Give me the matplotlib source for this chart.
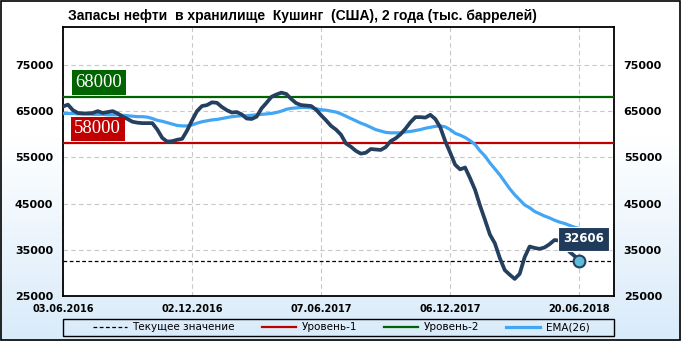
import matplotlib
matplotlib.use('Agg')
import matplotlib.pyplot as plt
from matplotlib.patches import Rectangle
import numpy as np

# weekly stocks at Cushing, thousand barrels
stock = [66000, 66400, 65200, 64600, 64500, 64500, 64600, 65000, 64600, 64800,
         65000, 64500, 63800, 63300, 62700, 62500, 62400, 62400, 62400, 61000,
         59200, 58400, 58500, 58800, 59000, 60800, 63000, 65000, 66100, 66300,
         66900, 66800, 65900, 65200, 64700, 64800, 64300, 63400, 63300, 63800,
         65600, 66800, 68100, 68600, 69000, 68700, 67600, 66700, 66300, 66200,
         66100, 65300, 64100, 63000, 61800, 61000, 59900, 58000, 57300, 56400,
         55800, 56000, 56800, 56700, 56600, 57200, 58500, 59100, 60000, 61200,
         62600, 63700, 63700, 63600, 64200, 63300, 61500, 58500, 56000, 53400,
         52400, 52800, 50500, 48000, 44600, 41500, 38300, 36400, 33200, 30600,
         29600, 28700, 29800, 33400, 35700, 35400, 35200, 35500, 36200, 37100,
         37000, 36500, 34600, 33700, 32606]

ema26 = [64500, 64500, 64500, 64400, 64400, 64400, 64300, 64300, 64300, 64200,
         64200, 64200, 64100, 64000, 63900, 63800, 63800, 63700, 63400, 63000,
         62800, 62500, 62200, 61900, 61800, 61800, 62000, 62400, 62700, 62900,
         63100, 63200, 63400, 63600, 63800, 63900, 64000, 64000, 64100, 64200,
         64300, 64400, 64500, 64700, 65000, 65400, 65600, 65700, 65800, 65800,
         65700, 65500, 65300, 65200, 65000, 64800, 64400, 63900, 63400, 62900,
         62400, 62000, 61500, 61000, 60700, 60400, 60300, 60300, 60300, 60500,
         60600, 60800, 61000, 61300, 61500, 61700, 61800, 61600, 61000, 60200,
         59800, 59300, 58600, 57800, 56400, 55300, 53800, 52500, 51200, 49700,
         48200, 46900, 45800, 44700, 44100, 43300, 42800, 42300, 41900, 41400,
         41000, 40700, 40300, 39900, 39600]

level1 = 58000
level2 = 68000
current = 32606

date_pos = [0, 26, 52, 78, 104]
date_labels = ['03.06.2016', '02.12.2016', '07.06.2017', '06.12.2017', '20.06.2018']
y_ticks = [25000, 35000, 45000, 55000, 65000, 75000]

navy = '#253f5f'
ema_col = '#42a6f5'
red = '#c00000'
green = '#006400'

fig = plt.figure(figsize=(6.81, 3.41), dpi=100)

# background gradient, white on top to pale blue at the bottom
bg = fig.add_axes([0, 0, 1, 1], zorder=-10)
t = np.linspace(0, 1, 256)
t = np.clip((t - 0.4) / 0.6, 0, 1)
top = np.array([1.0, 1.0, 1.0])
bottom = np.array([0.85, 0.92, 0.98])
grad = top[None, :] * (1 - t[:, None]) + bottom[None, :] * t[:, None]
bg.imshow(grad[:, None, :], aspect='auto', extent=[0, 1, 0, 1], origin='upper')
bg.axis('off')

ax = fig.add_axes([63 / 681, 1 - 296 / 341, 551 / 681, 269 / 341])
ax.set_facecolor('white')
x = np.arange(len(stock))

ax.axhline(level1, color=red, lw=1.6, label='Уровень-1', zorder=3)
ax.axhline(level2, color=green, lw=1.6, label='Уровень-2', zorder=3)
ax.axhline(current, color='black', lw=0.9, ls=(0, (3, 2)), label='Текущее значение', zorder=3)
ax.plot(x, ema26, color=ema_col, lw=2.3, label='EMA(26)', zorder=4)
ax.plot(x, stock, color=navy, lw=2.7, zorder=5, solid_joinstyle='round')
ax.plot(x[-1], stock[-1], 'o', ms=8.5, mfc='#5fbcd8', mec=navy, mew=1.5, zorder=6)

ax.set_xlim(0, 111)
ax.set_ylim(25000, 83200)
ax.set_xticks(date_pos)
ax.set_xticklabels(date_labels)
ax.set_yticks(y_ticks)
ax.grid(True, color='#c8c8c8', ls=(0, (4, 3)), lw=0.8)
ax.set_axisbelow(True)
ax.tick_params(axis='x', length=0, pad=6, labelsize=7)
ax.tick_params(axis='y', length=0, pad=7, labelsize=8, right=True, labelright=True)
for lab in ax.get_xticklabels() + ax.get_yticklabels():
    lab.set_fontweight('bold')
for s in ax.spines.values():
    s.set_linewidth(1.3)
    s.set_color('black')

# level boxes
ax.text(7.2, 71200, str(level2), ha='center', va='center', color='white',
        fontsize=13.5, family='Liberation Serif',
        bbox=dict(boxstyle='square,pad=0.2', fc=green, ec='none'), zorder=7)
ax.text(7.0, 61150, str(level1), ha='center', va='center', color='white',
        fontsize=13.5, family='Liberation Serif',
        bbox=dict(boxstyle='square,pad=0.2', fc=red, ec='none'), zorder=7)
ax.text(104.9, 37350, str(current), ha='center', va='center', color='white',
        fontsize=8.5, fontweight='bold',
        bbox=dict(boxstyle='square,pad=0.45', fc='#1f3a5a', ec='white', lw=0.8),
        zorder=7)

fig.text(68 / 681, 1 - 16 / 341, 'Запасы нефти  в хранилище  Кушинг  (США), 2 года (тыс. баррелей)',
         ha='left', va='center', fontsize=10, fontweight='bold', family='Liberation Sans')

# legend below the plot, framed box drawn separately
handles, labels = ax.get_legend_handles_labels()
order = ['Текущее значение', 'Уровень-1', 'Уровень-2', 'EMA(26)']
hl = dict(zip(labels, handles))
leg = fig.legend([hl[k] for k in order], order, ncol=4,
                 bbox_to_anchor=(341 / 681, 1 - 327.5 / 341), loc='center',
                 fontsize=7.5, handlelength=3.3, handletextpad=0.5,
                 columnspacing=2.6, frameon=False, borderpad=0, borderaxespad=0)
fig.patches.append(Rectangle((63 / 681, 1 - 336 / 341), 551 / 681, 17 / 341,
                             transform=fig.transFigure, fill=False, ec='black', lw=1.0))

fig.patches.append(Rectangle((0.001, 0.002), 0.997, 0.996, transform=fig.transFigure,
                             fill=False, ec='black', lw=1.2))

fig.savefig('out.png', dpi=100)
